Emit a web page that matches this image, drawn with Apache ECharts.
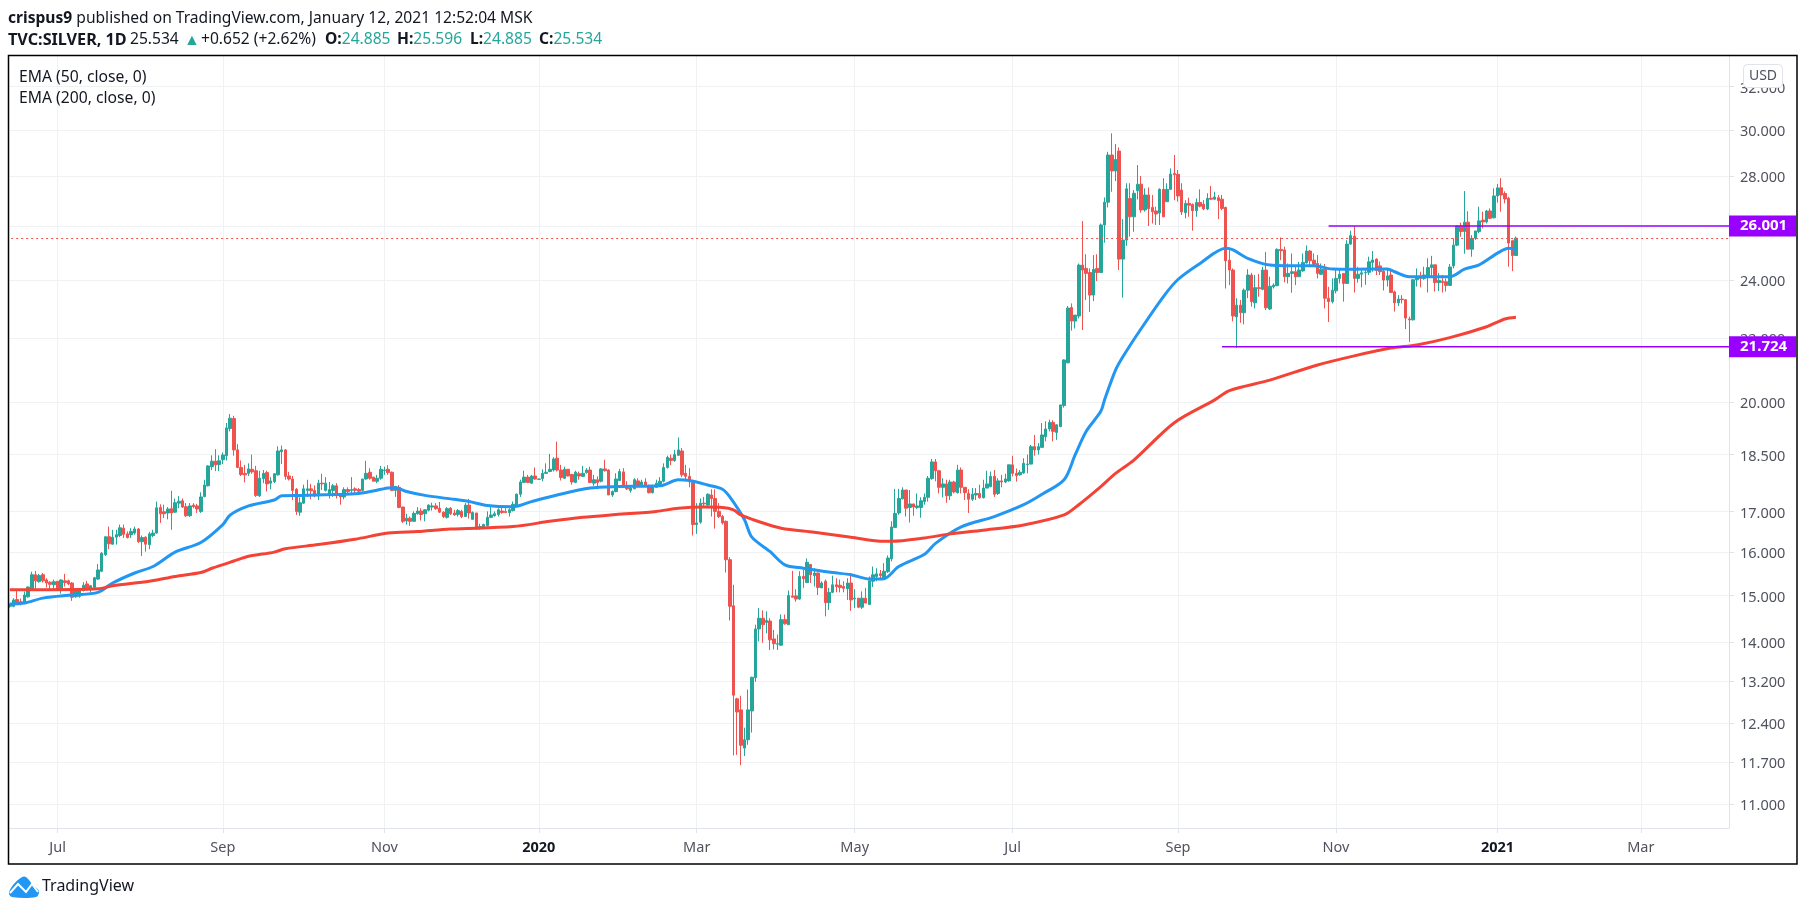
<!DOCTYPE html>
<html><head><meta charset="utf-8">
<style>html,body{margin:0;padding:0;background:#fff}#c{width:1805px;height:911px}</style>
<script src="https://cdn.jsdelivr.net/npm/echarts@6/dist/echarts.min.js"></script>
</head><body><div id="c"></div>
<script>
// [open, high, low, close], one row per trading day
const bars2019a=[[14.76,14.82,14.73,14.80],[14.76,14.94,14.74,14.90],[14.91,15.13,14.79,14.83],[14.86,14.93,14.78,14.81],[14.83,15.09,14.81,15.01],[14.97,15.20,14.95,15.19],[15.13,15.54,15.11,15.47],[15.47,15.56,15.11,15.33],[15.31,15.49,15.29,15.45],[15.47,15.51,15.29,15.33],[15.35,15.39,15.18,15.28],[15.30,15.32,15.15,15.25],[15.24,15.36,15.15,15.31],[15.32,15.32,15.13,15.13],[15.11,15.36,15.04,15.35],[15.33,15.49,15.20,15.29],[15.33,15.36,15.23,15.26],[15.28,15.30,14.88,14.96],[14.97,15.14,14.95,15.13],[14.98,15.14,14.95,15.13],[15.11,15.30,15.09,15.23],[15.26,15.33,15.11,15.14],[15.13,15.23,15.06,15.22],[15.18,15.42,15.16,15.40],[15.37,15.72,15.35,15.58],[15.55,16.00,15.53,15.97],[15.94,16.38,15.91,16.37],[16.37,16.62,16.07,16.20],[16.19,16.54,16.18,16.36],[16.36,16.54,16.18,16.42],[16.40,16.67,16.36,16.59],[16.58,16.67,16.34,16.43],[16.44,16.50,16.33,16.35],[16.42,16.58,16.34,16.50],[16.46,16.62,16.42,16.56],[16.56,16.58,16.22,16.25],[16.25,16.40,15.91,16.35],[16.36,16.38,16.01,16.19],[16.18,16.49,16.07,16.44],[16.40,16.54,16.36,16.46],[16.46,17.25,16.44,17.09],[17.10,17.18,16.71,16.94],[16.99,17.17,16.83,16.94],[16.96,17.11,16.80,17.06],[17.07,17.53,16.54,16.96],[16.98,17.33,16.96,17.22],[17.21,17.39,17.08,17.26],[17.27,17.33,17.09,17.11],[17.12,17.21,16.86,16.89],[16.89,17.21,16.86,17.14],[17.16,17.21,17.08,17.12],[17.14,17.19,16.96,17.06],[17.00,17.49,16.96,17.37],[17.38,17.82,17.36,17.68],[17.66,18.21,17.64,18.19],[18.17,18.48,18.08,18.32],[18.32,18.65,18.05,18.22],[18.23,18.48,18.05,18.33],[18.36,18.56,18.24,18.49],[18.47,19.39,18.34,19.25]];
const bars2019b=[[19.23,19.65,19.15,19.53],[19.52,19.60,18.47,18.63],[18.63,18.79,18.13,18.15],[18.15,18.34,17.92,17.96],[17.99,18.22,17.75,17.95],[17.99,18.26,17.92,18.11],[18.10,18.50,17.98,18.03],[18.06,18.19,17.37,17.41],[17.40,18.06,17.37,17.86],[17.85,18.08,17.73,17.99],[18.01,18.06,17.51,17.71],[17.73,17.89,17.57,17.79],[17.77,17.99,17.73,17.98],[17.95,18.73,17.93,18.60],[18.58,18.75,18.24,18.63],[18.63,18.65,17.82,17.91],[17.92,18.03,17.80,17.84],[17.84,17.92,17.29,17.54],[17.57,17.60,16.91,17.00],[16.98,17.36,16.89,17.22],[17.21,17.69,17.19,17.58],[17.54,17.82,17.37,17.58],[17.58,17.71,17.31,17.53],[17.54,17.67,17.36,17.40],[17.40,17.82,17.29,17.73],[17.73,17.98,17.55,17.71],[17.54,17.89,17.51,17.73],[17.45,17.76,17.33,17.56],[17.54,17.71,17.37,17.66],[17.66,17.73,17.33,17.40],[17.44,17.46,17.17,17.37],[17.37,17.62,17.31,17.56],[17.56,17.62,17.42,17.51],[17.54,17.89,17.42,17.56],[17.58,17.62,17.46,17.54],[17.56,17.60,17.46,17.52],[17.54,17.84,17.51,17.84],[17.84,18.33,17.82,17.99],[18.02,18.13,17.82,17.86],[17.89,17.89,17.78,17.78],[17.78,17.95,17.73,17.86],[17.86,18.19,17.82,18.10],[18.06,18.17,17.95,18.08],[18.10,18.21,17.95,18.01],[18.02,18.04,17.54,17.54],[17.54,17.66,17.37,17.64],[17.62,17.68,17.08,17.10],[17.11,17.12,16.71,16.75],[16.76,16.94,16.67,16.83],[16.83,16.87,16.64,16.75],[16.75,17.00,16.75,16.95],[16.94,17.11,16.92,17.01],[17.01,17.08,16.77,16.92],[16.94,17.06,16.75,17.04],[17.03,17.18,17.00,17.16],[17.11,17.22,17.02,17.14],[17.14,17.21,17.04,17.07],[17.08,17.24,16.96,16.98],[16.98,17.00,16.83,16.87],[16.85,17.11,16.82,17.07]];
const bars2020a=[[17.08,17.11,16.91,16.94],[16.96,17.04,16.89,16.91],[16.92,17.06,16.87,17.02],[17.00,17.04,16.83,16.87],[16.87,17.21,16.86,17.16],[17.16,17.32,16.82,16.96],[16.80,17.00,16.80,16.97],[16.96,16.96,16.54,16.56],[16.57,16.69,16.54,16.62],[16.58,16.69,16.57,16.67],[16.64,17.00,16.62,16.85],[16.85,17.11,16.83,16.91],[16.89,17.00,16.87,16.94],[16.92,17.08,16.87,17.04],[17.01,17.11,16.94,16.97],[17.00,17.08,16.96,16.97],[16.97,17.08,16.87,17.04],[17.02,17.25,17.00,17.18],[17.16,17.46,17.12,17.44],[17.44,17.82,17.37,17.76],[17.75,18.06,17.73,17.89],[17.89,17.95,17.73,17.75],[17.73,17.95,17.71,17.92],[17.92,18.15,17.82,17.84],[17.83,17.84,17.82,17.84],[17.85,18.10,17.78,17.99],[17.99,18.26,17.98,18.02],[18.04,18.52,18.02,18.10],[18.08,18.43,18.04,18.38],[18.40,18.86,18.04,18.08],[18.08,18.22,17.80,17.88],[17.86,18.17,17.84,18.10],[18.10,18.10,17.91,17.92],[17.96,17.98,17.69,17.76],[17.75,18.06,17.73,18.02],[17.98,18.04,17.82,17.92],[17.91,18.19,17.89,17.99],[18.01,18.13,17.98,18.08],[18.08,18.17,17.73,17.75],[17.73,17.95,17.66,17.82],[17.82,17.91,17.57,17.75],[17.78,18.13,17.75,18.11],[18.11,18.36,18.04,18.06],[18.08,18.10,17.42,17.42],[17.42,17.54,17.37,17.51],[17.51,17.99,17.49,17.84],[17.80,18.11,17.80,18.04],[18.03,18.13,17.62,17.66],[17.66,17.78,17.55,17.58],[17.54,17.66,17.48,17.60],[17.58,17.86,17.58,17.82],[17.79,17.86,17.62,17.66],[17.66,17.82,17.66,17.76],[17.76,17.86,17.62,17.66],[17.64,17.69,17.46,17.48],[17.48,17.69,17.46,17.64],[17.62,17.82,17.62,17.73],[17.69,17.89,17.64,17.78],[17.78,18.26,17.75,18.15],[18.15,18.47,18.12,18.42],[18.40,18.50,18.21,18.34],[18.34,18.63,18.30,18.50],[18.48,18.98,18.48,18.63],[18.60,18.68,17.89,17.95],[17.99,18.22,17.78,17.91],[17.91,18.13,17.62,17.77],[17.75,17.77,16.40,16.67],[16.67,17.21,16.44,16.71],[16.73,17.33,16.69,17.21],[17.21,17.37,17.12,17.19],[17.16,17.46,17.12,17.44],[17.42,17.57,16.87,17.33],[17.33,17.57,16.57,17.00],[17.00,17.21,16.83,16.87],[16.87,16.91,16.67,16.71],[16.75,16.77,15.52,15.82],[15.82,15.88,14.45,14.76],[14.77,15.24,11.82,12.93],[12.86,12.88,11.83,12.61],[12.65,12.92,11.65,12.00]];
const bars2020b=[[11.95,12.32,11.81,12.10],[12.10,13.04,12.01,12.65],[12.63,13.29,12.23,13.28],[13.27,14.36,13.19,14.27],[14.27,14.72,14.01,14.50],[14.50,14.67,13.98,14.36],[14.41,14.65,14.18,14.45],[14.44,14.50,13.83,14.04],[14.06,14.25,13.84,13.96],[13.95,14.15,13.83,13.96],[13.93,14.58,13.91,14.47],[14.47,14.58,14.36,14.38],[14.36,15.11,14.36,15.00],[14.99,15.56,14.96,14.96],[14.99,15.14,14.86,14.92],[14.92,15.55,14.90,15.43],[15.43,15.58,15.17,15.38],[15.29,15.85,15.29,15.76],[15.71,15.72,15.28,15.47],[15.45,15.62,15.20,15.51],[15.51,15.52,15.01,15.18],[15.17,15.32,15.17,15.28],[15.32,15.36,14.54,14.84],[14.84,15.17,14.68,15.07],[15.07,15.45,15.05,15.24],[15.24,15.39,15.07,15.20],[15.23,15.36,15.07,15.18],[15.20,15.32,15.07,15.16],[15.15,15.39,14.90,15.28],[15.28,15.51,14.66,14.90],[14.92,15.14,14.72,14.94],[14.94,14.94,14.72,14.74],[14.74,15.09,14.70,14.94],[14.94,15.17,14.83,14.83],[14.80,15.43,14.80,15.33],[15.32,15.66,15.19,15.47],[15.43,15.62,15.32,15.49],[15.49,15.58,15.36,15.45],[15.39,15.74,15.36,15.55],[15.54,15.92,15.51,15.86],[15.84,16.75,15.78,16.61],[16.60,17.58,16.59,16.95],[16.96,17.58,16.91,17.33],[17.32,17.62,17.31,17.55],[17.55,17.55,16.87,17.08],[17.10,17.55,16.72,17.19],[17.19,17.19,16.89,17.11],[17.10,17.46,17.06,17.14],[17.10,17.36,16.84,17.27],[17.25,17.46,17.17,17.36],[17.36,17.92,17.25,17.86],[17.85,18.38,17.82,18.30],[18.30,18.38,17.78,18.06],[18.06,18.08,17.46,17.62],[17.62,17.86,17.36,17.71],[17.71,17.82,17.22,17.40],[17.40,17.82,17.29,17.76],[17.76,17.79,17.46,17.50],[17.48,18.22,17.46,18.08],[18.08,18.15,17.46,17.62],[17.62,17.62,17.29,17.48],[17.46,17.57,16.96,17.31],[17.31,17.60,17.27,17.44],[17.42,17.60,17.29,17.46],[17.46,17.69,17.33,17.35],[17.35,17.82,17.33,17.60],[17.60,18.06,17.60,17.71],[17.64,18.04,17.62,17.91],[17.91,18.08,17.37,17.44],[17.46,17.86,17.42,17.79],[17.79,17.95,17.62,17.76],[17.76,17.98,17.73,17.84],[17.79,18.22,17.77,18.22],[18.22,18.47,17.91,17.99],[17.99,18.12,17.77,17.93],[17.95,18.08,17.93,18.02],[18.00,18.40,17.98,18.26],[18.23,18.50,17.99,18.24],[18.24,18.77,18.24,18.72],[18.72,19.05,18.47,18.63],[18.63,18.82,18.50,18.72],[18.70,19.39,18.68,19.05],[19.00,19.44,18.87,19.22],[19.22,19.49,19.15,19.41],[19.41,19.47,18.87,19.15],[19.12,19.34,18.91,19.34],[19.29,19.92,19.27,19.92],[19.90,21.32,19.84,21.30]];
const bars2020c=[[21.21,23.08,21.19,23.01],[23.03,23.17,22.25,22.57],[22.57,22.77,22.32,22.77],[22.74,24.59,22.66,24.53],[24.53,26.19,22.27,24.35],[24.41,24.93,23.29,24.23],[24.26,24.41,22.88,23.46],[23.46,24.90,23.25,24.37],[24.41,24.93,23.95,24.26],[24.26,26.10,24.26,26.04],[26.04,27.13,25.36,26.94],[26.94,29.04,26.73,28.90],[28.90,29.85,27.36,28.22],[28.22,29.38,27.80,28.71],[29.07,29.23,24.35,24.75],[24.75,26.27,23.37,25.46],[25.46,27.71,25.24,27.48],[27.09,27.71,25.59,26.36],[26.36,27.43,25.78,27.30],[27.40,28.47,27.05,27.67],[27.67,28.01,26.52,26.63],[26.63,27.50,26.56,27.23],[27.23,27.54,26.00,26.68],[26.73,27.23,26.10,26.56],[26.59,26.76,26.04,26.47],[26.51,27.50,26.04,27.46],[27.46,27.92,26.36,26.36],[26.96,27.71,26.96,27.46],[27.46,28.33,27.43,28.09],[28.12,28.90,27.02,28.06],[28.08,28.26,26.96,27.19],[27.43,27.71,26.43,26.55],[26.52,27.02,26.30,26.89],[26.89,27.12,26.36,26.82],[26.85,26.89,25.82,26.60],[26.60,27.09,26.36,26.93],[26.93,27.46,26.73,26.78],[26.86,27.02,26.62,26.67],[26.67,27.30,26.62,27.09],[27.10,27.60,27.02,27.06],[27.06,27.36,27.02,27.15],[27.12,27.23,26.27,27.00],[27.06,27.23,26.62,26.69],[26.73,26.76,23.69,24.69],[24.71,25.15,23.81,24.35],[24.35,24.41,22.56,22.74],[22.71,23.35,21.68,23.11]];
const bars2020d=[[23.11,23.29,22.51,22.85],[22.85,23.69,22.46,23.63],[23.63,24.38,23.35,24.17],[24.17,24.25,23.06,23.23],[23.19,24.17,23.00,23.72],[23.72,24.21,23.40,23.69],[23.66,24.47,23.63,24.35],[24.35,25.02,22.94,23.02],[22.98,24.11,22.94,23.77],[23.75,23.87,23.69,23.81],[23.79,25.15,23.77,25.11],[25.11,25.56,24.71,25.06],[25.09,25.21,23.91,24.11],[24.11,24.59,23.87,24.23],[24.23,24.96,23.54,24.29],[24.29,24.51,23.81,24.11],[24.11,24.65,24.11,24.35],[24.32,24.96,24.29,24.63],[24.61,25.26,24.59,25.05],[25.05,25.09,24.47,24.69],[24.71,24.96,24.47,24.56],[24.59,24.90,24.05,24.23],[24.20,24.59,24.17,24.38],[24.38,24.57,23.00,23.35],[23.35,23.75,22.54,23.23],[23.23,24.05,23.17,23.63],[23.61,24.35,23.52,24.05],[24.05,24.35,23.87,24.20],[24.23,24.23,23.23,23.87],[23.87,25.46,23.87,25.31],[25.31,25.82,25.28,25.63],[25.61,26.00,23.55,24.05],[24.05,24.47,23.90,24.20],[24.20,24.38,23.73,24.25],[24.25,24.41,23.82,24.27],[24.27,24.84,24.17,24.65],[24.63,25.05,24.29,24.72],[24.75,24.78,24.17,24.33],[24.50,24.66,24.17,24.29],[24.31,24.41,23.62,23.99],[23.99,24.41,23.76,24.14],[24.17,24.35,23.55,23.55],[23.57,23.62,22.89,23.19],[23.19,23.46,23.08,23.32],[23.32,23.46,23.17,23.30],[23.30,23.31,22.30,22.67],[22.64,22.72,21.88,22.61],[22.61,24.02,22.59,24.00],[24.00,24.41,23.76,24.10],[24.12,24.29,23.73,24.05],[24.05,24.47,24.00,24.17],[24.12,24.78,23.55,24.44],[24.44,24.87,24.12,24.54],[24.54,24.54,23.58,23.90],[23.90,24.25,23.60,23.98],[23.95,24.17,23.55,23.90],[23.93,24.05,23.58,23.80],[23.80,24.57,23.78,24.46],[24.50,25.53,24.41,25.27],[25.27,26.03,25.23,26.00],[26.00,26.13,25.59,25.79],[25.79,27.39,24.95,26.15],[26.15,26.58,25.12,25.12],[25.12,25.65,24.84,25.53],[25.53,25.81,25.47,25.81],[25.79,26.76,25.72,26.20],[26.23,26.56,25.91,26.16],[26.16,26.63,26.10,26.59],[26.59,26.69,26.27,26.30],[26.32,27.50,26.30,27.19],[27.19,27.68,26.92,27.52],[27.52,27.92,26.56,27.23],[27.29,27.38,26.89,27.07],[27.10,27.16,24.47,25.35],[25.44,25.47,24.31,24.88],[24.885,25.596,24.885,25.534]];

// EMA readings: bar number, value
const ema50Bars=[0,4,9,17,24,28,34,39,45,52,58,60,65,72,74,79,88,95,103,105,108,113,120,125,130,137,142,149,158,165,177,182,185,190,194,196,200,202,207,211,216,224,229,234,238,242,249,252,259,268,276,281,287,290,293,297,298,301,303,308,314,318,324,331,333,337,343,347,355,360,366,375,377,381,392,396,400,405,408,410];
const ema50Vals=[14.81,14.83,14.94,15.01,15.07,15.28,15.51,15.66,16.00,16.23,16.67,16.91,17.14,17.29,17.40,17.41,17.43,17.46,17.60,17.61,17.51,17.41,17.32,17.25,17.15,17.12,17.25,17.42,17.60,17.64,17.66,17.82,17.80,17.68,17.57,17.37,16.79,16.36,16.01,15.70,15.62,15.52,15.47,15.37,15.38,15.66,15.95,16.21,16.61,16.87,17.17,17.44,17.82,18.49,19.15,19.73,20.07,20.98,21.40,22.32,23.40,24.01,24.59,25.15,25.09,24.78,24.53,24.51,24.51,24.39,24.38,24.39,24.29,24.11,24.11,24.38,24.54,24.97,25.15,25.12];
const ema200Bars=[0,9,24,28,38,45,52,55,61,65,72,75,84,94,103,111,120,137,147,156,165,176,182,189,194,197,199,203,210,219,229,238,240,249,256,265,276,287,291,297,301,306,317,328,332,343,356,366,376,383,392,402,407,410];
const ema200Vals=[15.13,15.13,15.15,15.22,15.32,15.43,15.52,15.62,15.79,15.90,16.00,16.08,16.18,16.31,16.46,16.50,16.56,16.62,16.75,16.85,16.92,17.00,17.08,17.11,17.10,17.04,16.91,16.77,16.58,16.48,16.36,16.26,16.26,16.34,16.44,16.53,16.66,16.91,17.17,17.64,17.99,18.35,19.40,20.07,20.35,20.67,21.14,21.43,21.68,21.78,22.02,22.38,22.64,22.70];

// axes
const yTicks=[11,11.7,12.4,13.2,14,15,16,17,18.5,20,22,24,26,28,30,32];
const xTickLabels=['Jul','Sep','Nov','2020','Mar','May','Jul','Sep','Nov','2021','Mar'];
const xTickBars=[13,58,102,144,187,230,273,318,361,405,444];
const totalBars=468;

// levels
const lastPrice=25.534;
const resistance=26.001, resistanceFromBar=359;
const support=21.724, supportFromBar=330;

const TEAL='#26a69a',RED='#ef5350',PURPLE='#9900ff',GRID='#f0f1f3',EDGE='#e0e3eb',TXT='#131722';
const FONT='"Noto Sans"';
const bars=[...bars2019a,...bars2019b,...bars2020a,...bars2020b,...bars2020c,...bars2020d];
// one blank slot precedes the first bar so that its candle sits fully inside the frame
const categories=new Array(totalBars+2).fill('');
xTickBars.forEach((b,i)=>{categories[b+1]=xTickLabels[i];});
const tickIdx=new Set(xTickBars.map(b=>b+1));
const tickFn=(i)=>tickIdx.has(i);
const pairs=(bs,vs)=>bs.map((b,i)=>[b+1,vs[i]]);

function levelSeries(name,val,fromBar){
  return {name,type:'line',symbol:'none',silent:true,z:6,animation:false,
    data:[[fromBar+1,val],[totalBars+1,val]],
    lineStyle:{color:PURPLE,width:1.5},
    endLabel:{show:true,formatter:()=>val.toFixed(3),color:'#fff',fontFamily:FONT,fontSize:15,fontWeight:'bold',
      backgroundColor:PURPLE,padding:[2,11,2,11],distance:0,width:45,height:17,lineHeight:17,align:'left',verticalAlign:'middle'}};
}
function head(x,text,extra){
  return {type:'text',z:92,silent:true,x,y:32,style:Object.assign({font:'15.6px '+FONT,fill:TXT,text},extra||{})};
}
const ohlcRich={rich:{b:{fontFamily:FONT,fontSize:15.6,fontWeight:'bold',fill:TXT},g:{fontFamily:FONT,fontSize:15.6,fill:TEAL}}};

const chart=echarts.init(document.getElementById('c'),null,{renderer:'canvas',width:1805,height:911});
chart.setOption({
  animation:false,backgroundColor:'#fff',
  grid:{left:6.12,right:76,top:55,bottom:83,containLabel:false},
  xAxis:{type:'category',data:categories,boundaryGap:false,
    axisLine:{show:true,onZero:false,lineStyle:{color:EDGE,width:1}},
    axisTick:{show:true,length:5,interval:tickFn,lineStyle:{color:EDGE}},
    splitLine:{show:true,interval:tickFn,lineStyle:{color:GRID,width:1}},
    axisLabel:{show:true,interval:tickFn,margin:12,fontFamily:FONT,fontSize:14.5,color:'#50535e',hideOverlap:false,
      formatter:(v)=>/^\d+$/.test(v)?'{b|'+v+'}':v,
      rich:{b:{fontFamily:FONT,fontSize:14.5,fontWeight:'bold',color:TXT}}}},
  yAxis:{type:'log',logBase:10,position:'right',min:10.61,max:33.54,
    axisLine:{show:true,onZero:false,lineStyle:{color:EDGE,width:1}},
    axisTick:{show:true,length:5,customValues:yTicks,lineStyle:{color:EDGE}},
    minorTick:{show:false},minorSplitLine:{show:false},
    splitLine:{show:true,lineStyle:{color:GRID,width:1}},
    axisLabel:{show:true,margin:11,customValues:yTicks,
      formatter:(v)=>'{a|'+Number(v).toFixed(3)+'}',
      rich:{a:{fontFamily:FONT,fontSize:14.5,color:'#50535e',padding:[4,0,0,0]}},
      showMinLabel:true,showMaxLabel:true}},
  series:[
    {type:'candlestick',z:3,barWidth:3,clip:false,silent:true,animation:false,large:false,progressive:0,
      encode:{x:0,y:[1,2,3,4]},
      data:bars.map((b,i)=>[i+1,b[0],b[3],b[2],b[1]]),
      itemStyle:{color:TEAL,color0:RED,borderColor:TEAL,borderColor0:RED,borderWidth:1},
      markLine:{silent:true,symbol:'none',animation:false,label:{show:false},
        lineStyle:{color:RED,type:[2,3],width:1},data:[{yAxis:lastPrice}]}},
    {name:'EMA50',type:'line',z:5,symbol:'none',smooth:0.3,silent:true,animation:false,
      data:pairs(ema50Bars,ema50Vals),lineStyle:{color:'#2196f3',width:3}},
    {name:'EMA200',type:'line',z:5,symbol:'none',smooth:0.3,silent:true,animation:false,
      data:pairs(ema200Bars,ema200Vals),lineStyle:{color:'#f44336',width:3}},
    levelSeries('resistance',resistance,resistanceFromBar),
    levelSeries('support',support,supportFromBar)
  ],
  graphic:[
    {type:'rect',z:90,silent:true,shape:{x:0,y:50,width:8,height:820},style:{fill:'#fff'}},
    {type:'rect',z:91,silent:true,shape:{x:8.5,y:55.5,width:1788.5,height:808.5},style:{fill:'none',stroke:'#000',lineWidth:1.5}},
    {type:'text',z:92,silent:true,x:8,y:11,style:{font:'15.6px '+FONT,fill:TXT,
      text:'{b|crispus9} published on TradingView.com, January 12, 2021 12:52:04 MSK',
      rich:{b:{fontFamily:FONT,fontSize:15.6,fontWeight:'bold',fill:TXT}}}},
    head(8,'TVC:SILVER, 1D',{font:'bold 16.2px '+FONT}),
    head(130,'25.534'),
    head(184,'▲',{fill:TEAL,font:'16px '+FONT}),
    head(201,'+0.652 (+2.62%)'),
    head(325,'{b|O:}{g|24.885}',ohlcRich),
    head(397,'{b|H:}{g|25.596}',ohlcRich),
    head(470,'{b|L:}{g|24.885}',ohlcRich),
    head(539,'{b|C:}{g|25.534}',ohlcRich),
    {type:'text',z:92,silent:true,x:19,y:70,style:{font:'15.7px '+FONT,fill:TXT,text:'EMA (50, close, 0)'}},
    {type:'text',z:92,silent:true,x:19,y:91,style:{font:'15.7px '+FONT,fill:TXT,text:'EMA (200, close, 0)'}},
    {type:'rect',z:92,silent:true,shape:{x:1743.5,y:64.5,width:39,height:23,r:4},style:{fill:'#fff',stroke:EDGE,lineWidth:1}},
    {type:'text',z:93,silent:true,x:1763,y:76,style:{font:'14px '+FONT,fill:'#50535e',text:'USD',align:'center',verticalAlign:'middle'}},
    {type:'polygon',z:92,silent:true,shape:{smooth:0.35,points:[[9,893],[13,885],[22,877],[26,877],[33,885],[39,891],[36,897],[12,897]]},style:{fill:'#2196f3'}},
    {type:'polyline',z:93,silent:true,shape:{points:[[10,893],[18,884],[26,892],[32,884],[38,892]]},style:{fill:'none',stroke:'#fff',lineWidth:2}},
    {type:'text',z:92,silent:true,x:42,y:878,style:{font:'16px '+FONT,fill:'#131722',text:'TradingView'}}
  ]
});
</script></body></html>
